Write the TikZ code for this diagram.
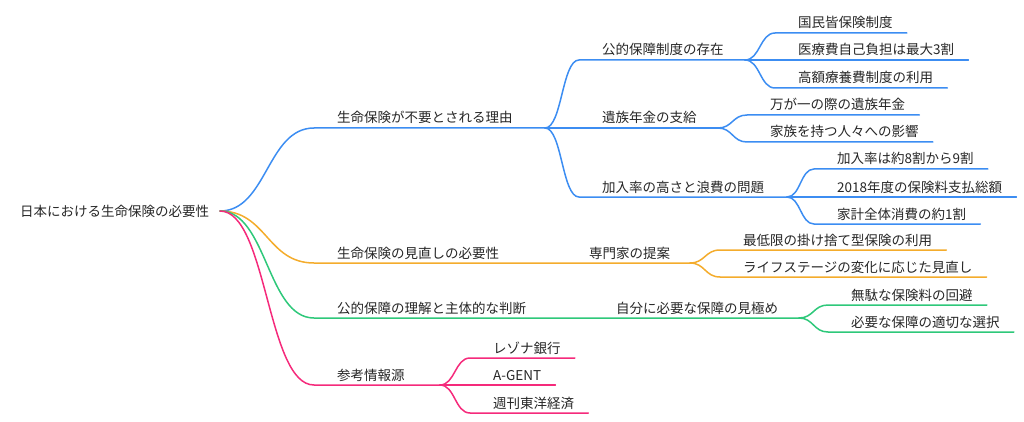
\documentclass[tikz,border=0pt]{standalone}
\usepackage{fontspec}
\setmainfont{Noto Sans CJK JP}
\usetikzlibrary{calc}
\definecolor{cblue}{HTML}{3C8DF2}
\definecolor{corange}{HTML}{F4AC2C}
\definecolor{cgreen}{HTML}{2EC87A}
\definecolor{cpink}{HTML}{F52A7B}
\definecolor{ctext}{HTML}{262626}
\tikzset{
  lbl/.style={anchor=base west, inner sep=0pt, text=ctext, font=\fontsize{13.5}{16}\selectfont},
  link/.style={line width=1.5pt, line cap=round},
  branch/.style={to path={let \p1=(\tikztostart), \p2=(\tikztotarget) in
     .. controls ({(\x1+\x2)/2},\y1) and ({(\x1+\x2)/2},\y2) .. (\tikztotarget)}},
}
% #1 name, #2 text x, #3 line y, #4 text
\newcommand\mmnode[4]{%
  \node[lbl] (#1) at (#2,#3-5) {#4};
  \coordinate (#1-s) at (#2-23,#3);
}
% leaf: also defines end of underline
\newcommand\mmleaf[4]{%
  \mmnode{#1}{#2}{#3}{#4}
  \path (#1.east |- #1-s) ++(14,0) coordinate (#1-e);
}
\begin{document}
\begin{tikzpicture}[x=1pt,y=-1pt]
\useasboundingbox (0,0) rectangle (1024,422);
% root
\node[lbl] (root) at (20,216) {日本における生命保険の必要性};
\coordinate (root-e) at (220,211);
% level 1
\mmnode{A}{337}{128}{生命保険が不要とされる理由}
\coordinate (A-e) at (545,128);
\mmnode{B}{337}{263}{生命保険の見直しの必要性}
\coordinate (B-e) at (540,263);
\mmnode{C}{337}{318}{公的保障の理解と主体的な判断}
\coordinate (C-e) at (565,318);
\mmnode{D}{337}{385}{参考情報源}
\coordinate (D-e) at (440,385);
% level 2 blue
\mmnode{A1}{602}{60}{公的保障制度の存在}
\coordinate (A1-e) at (745,60);
\mmnode{A2}{602}{128}{遺族年金の支給}
\coordinate (A2-e) at (718,128);
\mmnode{A3}{602}{197}{加入率の高さと浪費の問題}
\coordinate (A3-e) at (787,197);
% level 3 blue
\mmleaf{A1a}{798}{33}{国民皆保険制度}
\mmleaf{A1b}{798}{60}{医療費自己負担は最大3割}
\mmleaf{A1c}{798}{88}{高額療養費制度の利用}
\mmleaf{A2a}{770}{115}{万が一の際の遺族年金}
\mmleaf{A2b}{770}{142}{家族を持つ人々への影響}
\mmleaf{A3a}{837}{169}{加入率は約8割から9割}
\mmleaf{A3b}{837}{197}{2018年度の保険料支払総額}
\mmleaf{A3c}{837}{224}{家計全体消費の約1割}
% orange
\mmnode{B1}{589}{263}{専門家の提案}
\coordinate (B1-e) at (690,263);
\mmleaf{B1a}{743}{250}{最低限の掛け捨て型保険の利用}
\mmleaf{B1b}{743}{277}{ライフステージの変化に応じた見直し}
% green
\mmnode{C1}{616}{318}{自分に必要な保障の見極め}
\coordinate (C1-e) at (799,318);
\mmleaf{C1a}{851}{305}{無駄な保険料の回避}
\mmleaf{C1b}{851}{332}{必要な保障の適切な選択}
% pink
\mmleaf{D1}{493}{358}{レゾナ銀行}
\mmleaf{D2}{493}{385}{A-GENT}
\mmleaf{D3}{493}{413}{週刊東洋経済}
% connectors blue
\begin{scope}[link, draw=cblue]
\draw (root-e) to[branch] (A-s) -- (A-e);
\draw (A-e) to[branch] (A1-s) -- (A1-e);
\draw (A-e) to[branch] (A2-s) -- (A2-e);
\draw (A-e) to[branch] (A3-s) -- (A3-e);
\draw (A1-e) to[branch] (A1a-s) -- (A1a-e);
\draw (A1-e) to[branch] (A1b-s) -- (A1b-e);
\draw (A1-e) to[branch] (A1c-s) -- (A1c-e);
\draw (A2-e) to[branch] (A2a-s) -- (A2a-e);
\draw (A2-e) to[branch] (A2b-s) -- (A2b-e);
\draw (A3-e) to[branch] (A3a-s) -- (A3a-e);
\draw (A3-e) to[branch] (A3b-s) -- (A3b-e);
\draw (A3-e) to[branch] (A3c-s) -- (A3c-e);
\end{scope}
\begin{scope}[link, draw=corange]
\draw (root-e) to[branch] (B-s) -- (B-e) to[branch] (B1-s) -- (B1-e);
\draw (B1-e) to[branch] (B1a-s) -- (B1a-e);
\draw (B1-e) to[branch] (B1b-s) -- (B1b-e);
\end{scope}
\begin{scope}[link, draw=cgreen]
\draw (root-e) to[branch] (C-s) -- (C-e) to[branch] (C1-s) -- (C1-e);
\draw (C1-e) to[branch] (C1a-s) -- (C1a-e);
\draw (C1-e) to[branch] (C1b-s) -- (C1b-e);
\end{scope}
\begin{scope}[link, draw=cpink]
\draw (root-e) to[branch] (D-s) -- (D-e);
\draw (D-e) to[branch] (D1-s) -- (D1-e);
\draw (D-e) to[branch] (D2-s) -- (D2-e);
\draw (D-e) to[branch] (D3-s) -- (D3-e);
\end{scope}
\end{tikzpicture}
\end{document}
